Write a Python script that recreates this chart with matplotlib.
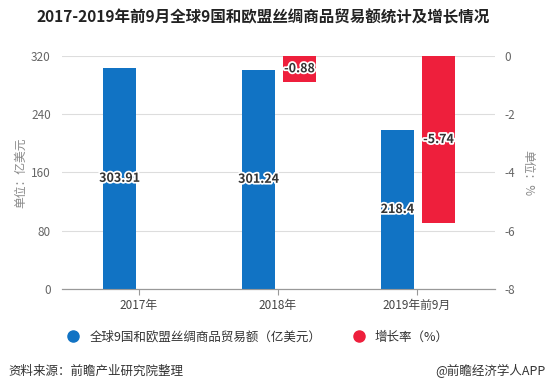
import matplotlib.pyplot as plt
from matplotlib.lines import Line2D
import matplotlib.patheffects as pe

plt.rcParams['font.family'] = ['Noto Sans CJK SC', 'DejaVu Sans']
plt.rcParams['axes.unicode_minus'] = False

categories = ['2017年', '2018年', '2019年前9月']
trade_values = [303.91, 301.24, 218.4]
growth_rates = [None, -0.88, -5.74]
trade_label = '全球9国和欧盟丝绸商品贸易额（亿美元）'
growth_label = '增长率（%）'

blue = '#1173c4'
red = '#ee1f3c'

fig = plt.figure(figsize=(5.48, 3.91), dpi=100)
ax = fig.add_axes([0.1131, 0.2609, 0.790, 0.5959])
ax2 = ax.twinx()

x = list(range(len(categories)))
w = 0.237
outline = [pe.withStroke(linewidth=2.5, foreground='white')]

ax.bar([i - 0.14 for i in x], trade_values, width=w, color=blue, zorder=3)
for i, v in zip(x, trade_values):
    ax.text(i - 0.14, v / 2, f'{v:.2f}'.rstrip('0'), ha='center', va='center',
            fontsize=9, fontweight='bold', color='#333333', path_effects=outline, zorder=5)

gx = [i + 0.155 for i, g in zip(x, growth_rates) if g is not None]
gv = [g for g in growth_rates if g is not None]
ax2.bar(gx, gv, width=w, color=red, zorder=3)
for i, g in zip(gx, gv):
    ax2.text(i, g / 2, f'{g:g}', ha='center', va='center', fontsize=9,
             fontweight='bold', color='#333333', path_effects=outline, zorder=5)

ax.set_xlim(-0.554, 2.561)
ax.set_ylim(0, 320)
ax.set_yticks([0, 80, 160, 240, 320])
ax2.set_ylim(-8, 0)
ax2.set_yticks([0, -2, -4, -6, -8])
ax.set_xticks(x)
ax.set_xticklabels(categories)

ax.grid(axis='y', color='#dddddd', linewidth=0.8, zorder=0)
ax.set_axisbelow(True)
for a in (ax, ax2):
    for s in ('top', 'left', 'right'):
        a.spines[s].set_visible(False)
    a.spines['bottom'].set_color('#999999')
    a.tick_params(axis='y', length=0, labelsize=8.5, labelcolor='#666666')
ax.tick_params(axis='x', length=4, color='#999999', labelsize=8.5, labelcolor='#444444')
ax.tick_params(axis='y', pad=8)
ax2.tick_params(axis='y', pad=7)

fig.text(0.037, 0.557, '单位：亿美元', rotation=90, ha='center', va='center',
         fontsize=8.5, color='#888888')
fig.text(0.963, 0.557, '单位：%', rotation=270, ha='center', va='center',
         fontsize=8.5, color='#888888')

fig.text(0.48, 0.955, '2017-2019年前9月全球9国和欧盟丝绸商品贸易额统计及增长情况',
         ha='center', va='center', fontsize=11.2, fontweight='bold', color='#222222')

handles = [Line2D([], [], marker='o', linestyle='', color=blue, markersize=8),
           Line2D([], [], marker='o', linestyle='', color=red, markersize=8)]
fig.legend(handles, [trade_label, growth_label], loc='center', ncol=2,
           bbox_to_anchor=(0.465, 0.138), frameon=False, fontsize=9,
           handletextpad=0.3, columnspacing=2.0, labelcolor='#333333')

fig.text(0.015, 0.051, '资料来源：前瞻产业研究院整理', ha='left', va='center',
         fontsize=9, color='#333333')
fig.text(0.995, 0.051, '@前瞻经济学人APP', ha='right', va='center',
         fontsize=9, color='#333333')

fig.savefig('out.png', dpi=100)
plt.close(fig)
